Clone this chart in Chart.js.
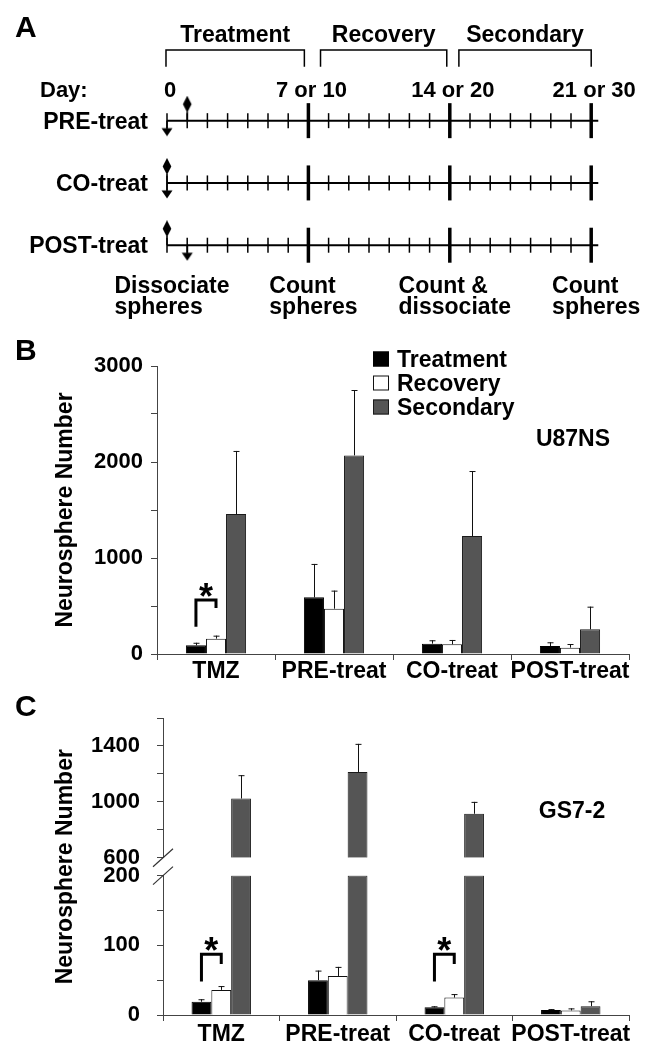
<!DOCTYPE html>
<html>
<head>
<meta charset="utf-8">
<script src="https://cdn.jsdelivr.net/npm/chart.js@4.4.1/dist/chart.umd.min.js"></script>
<style>
  html, body { margin: 0; padding: 0; background: #fff; }
  #fig { position: relative; width: 657px; height: 1050px; }
  canvas { position: absolute; left: 0; }
</style>
</head>
<body>
<div id="fig">
  <canvas id="panelA" width="657" height="335" style="top:0"></canvas>
  <canvas id="panelB" width="657" height="355" style="top:335px"></canvas>
  <canvas id="panelC" width="657" height="360" style="top:690px"></canvas>
</div>
<script>
// ---------- panel A : schedules ----------
const schedules = ["PRE-treat", "CO-treat", "POST-treat"];
const drugDay = [1, 0, 0];          // diamond
const dissociateDay = [0, 0, 1];    // arrow
const dayTicks = [0, 1, 2, 3, 4, 5, 6, 8, 9, 10, 11, 12, 13, 15, 16, 17, 18, 19, 20];
const phaseDays = [7, 14, 21];
const lineEnd = 21.35;
const dayLabels = ["0", "7 or 10", "14 or 20", "21 or 30"];
const dayLabelAt = [0, 7, 14, 21];
const phases = ["Treatment", "Recovery", "Secondary"];
const phaseFrom = [-0.05, 7.6, 14.45];
const phaseTo = [6.8, 13.85, 21.0];
const steps = [["Dissociate", "spheres"], ["Count", "spheres"], ["Count &", "dissociate"], ["Count", "spheres"]];

// ---------- panel B : U87NS ----------
const groups = ["TMZ", "PRE-treat", "CO-treat", "POST-treat"];
const seriesNames = ["Treatment", "Recovery", "Secondary"];
const u87Treatment = [90, 590, 108, 83];
const u87Recovery = [160, 472, 101, 66];
const u87Secondary = [1458, 2069, 1229, 257];
const u87TreatmentSd = [27, 348, 35, 39];
const u87RecoverySd = [31, 188, 45, 38];
const u87SecondarySd = [657, 681, 677, 236];
const u87Ticks = [0, 1000, 2000, 3000];

// ---------- panel C : GS7-2 ----------
const gsTreatment = [19, 50, 11, 7];
const gsRecovery = [36, 56, 25, 6.5];
const gsSecondary = [1024, 1214, 915, 12.7];
const gsTreatmentSd = [3.6, 13.7, 1.5, 1.5];
const gsRecoverySd = [5.5, 13, 5, 3];
const gsSecondarySd = [167, 201, 85, 7];
const gsLowTicks = [0, 100, 200];
const gsHighTicks = [600, 1000, 1400];
const gsBreak = [200, 600];

const FONT = "'Liberation Sans', Arial, Helvetica, sans-serif";
Chart.defaults.font.family = FONT;
Chart.defaults.font.weight = "bold";
Chart.defaults.color = "#000";

const barColors = [
    {backgroundColor: "#000000", borderColor: "#000000"},
    {backgroundColor: "#ffffff", borderColor: "#111111"},
    {backgroundColor: "#555555", borderColor: "#1a1a1a"}
];
const axisColor = "#444";

// ---------- markers for A ----------
function diamondMarker() {
    const c = document.createElement("canvas");
    c.width = 12;
    c.height = 50;
    const g = c.getContext("2d");
    g.fillStyle = "#000";
    g.beginPath();
    g.moveTo(6, 0);
    g.lineTo(10.3, 8.5);
    g.lineTo(6, 17);
    g.lineTo(1.7, 8.5);
    g.closePath();
    g.fill();
    g.fillRect(5.25, 16, 1.5, 9);
    return c;
}

function arrowMarker() {
    const c = document.createElement("canvas");
    c.width = 14;
    c.height = 32;
    const g = c.getContext("2d");
    g.fillStyle = "#000";
    g.fillRect(6.25, 16, 1.5, 8);
    g.beginPath();
    g.moveTo(1.5, 23.5);
    g.lineTo(12.5, 23.5);
    g.lineTo(7, 31.5);
    g.closePath();
    g.fill();
    return c;
}

const scheduleText = {
    id: "scheduleText",
    afterDraw(chart) {
        const {ctx, scales: {x, y}} = chart;
        ctx.save();
        ctx.fillStyle = "#000";
        ctx.textBaseline = "alphabetic";
        ctx.font = "bold 30px " + FONT;
        ctx.textAlign = "left";
        ctx.fillText("A", 15, 37);

        ctx.font = "bold 23px " + FONT;
        ctx.textAlign = "center";
        phases.forEach((p, i) => {
            const mid = (x.getPixelForValue(phaseFrom[i]) + x.getPixelForValue(phaseTo[i])) / 2;
            ctx.fillText(p, mid, 42);
        });

        ctx.font = "bold 22px " + FONT;
        ctx.textAlign = "left";
        ctx.fillText("Day:", 40, 97);
        ctx.textAlign = "center";
        dayLabels.forEach((t, i) => ctx.fillText(t, x.getPixelForValue(dayLabelAt[i]) + 3, 97));

        ctx.font = "bold 23px " + FONT;
        ctx.textAlign = "right";
        schedules.forEach((s, r) => ctx.fillText(s, 148, y.getPixelForValue(r) + 8));

        ctx.textAlign = "left";
        steps.forEach((lines, i) => {
            const w = Math.max(...lines.map(l => ctx.measureText(l).width));
            const left = x.getPixelForValue(dayLabelAt[i]) - w / 2 + 5;
            lines.forEach((l, k) => ctx.fillText(l, left, 293 + k * 21));
        });
        ctx.restore();
    }
};

const bracketTop = -1.136;
const bracketFoot = -0.864;
const aSets = [];
schedules.forEach((name, r) => {
    aSets.push({
        data: [{x: 0, y: r}, {x: lineEnd, y: r}],
        showLine: true, borderColor: "#000", borderWidth: 2, pointRadius: 0, clip: false
    });
    aSets.push({
        data: dayTicks.map(d => ({x: d, y: r})),
        pointStyle: "line", pointRotation: 90, pointRadius: 7.5,
        pointBorderWidth: 1.5, pointBorderColor: "#000", clip: false
    });
    aSets.push({
        data: phaseDays.map(d => ({x: d, y: r})),
        pointStyle: "line", pointRotation: 90, pointRadius: 17.5,
        pointBorderWidth: 3.5, pointBorderColor: "#000", clip: false
    });
});
aSets.push({
    data: schedules.map((s, r) => ({x: drugDay[r], y: r})),
    pointStyle: diamondMarker(), pointRadius: 5, clip: false
});
aSets.push({
    data: schedules.map((s, r) => ({x: dissociateDay[r], y: r})),
    pointStyle: arrowMarker(), pointRadius: 5, clip: false
});
phases.forEach((p, i) => {
    aSets.push({
        data: [
            {x: phaseFrom[i], y: bracketFoot}, {x: phaseFrom[i], y: bracketTop},
            {x: phaseTo[i], y: bracketTop}, {x: phaseTo[i], y: bracketFoot}
        ],
        showLine: true, borderColor: "#000", borderWidth: 1.5, pointRadius: 0, clip: false
    });
});

new Chart(document.getElementById("panelA"), {
    type: "scatter",
    data: {datasets: aSets},
    options: {
        responsive: false,
        devicePixelRatio: 1,
        animation: false,
        events: [],
        layout: {padding: {left: 156.9, right: 55.7, top: 20, bottom: 27.5}},
        scales: {
            x: {type: "linear", min: -0.5, max: 21.5, display: false},
            y: {type: "linear", min: -1.6, max: 3.0, reverse: true, display: false}
        },
        plugins: {legend: {display: false}, tooltip: {enabled: false}}
    },
    plugins: [scheduleText]
});

// ---------- shared bar helpers ----------
const errorBars = {
    id: "errorBars",
    afterDatasetsDraw(chart) {
        const ctx = chart.ctx;
        ctx.save();
        ctx.strokeStyle = "#111";
        ctx.lineWidth = 1;
        chart.data.datasets.forEach((ds, i) => {
            if (!ds.errs) return;
            const meta = chart.getDatasetMeta(i);
            const scale = chart.scales[meta.yAxisID];
            meta.data.forEach((bar, j) => {
                const raw = ds.data[j];
                const e = ds.errs[j];
                if (raw == null || e == null) return;
                const v = Array.isArray(raw) ? raw[1] : raw;
                const yTop = scale.getPixelForValue(v + e);
                const x = Math.round(bar.x) + 0.5;
                ctx.beginPath();
                ctx.moveTo(x, bar.y);
                ctx.lineTo(x, yTop);
                ctx.moveTo(x - 3, yTop + 0.5);
                ctx.lineTo(x + 3, yTop + 0.5);
                ctx.stroke();
            });
        });
        ctx.restore();
    }
};

const panelNotes = {
    id: "panelNotes",
    afterDraw(chart, args, opts) {
        const ctx = chart.ctx;
        ctx.save();
        ctx.fillStyle = "#000";
        ctx.textBaseline = "alphabetic";
        ctx.textAlign = "left";
        ctx.font = "bold 30px " + FONT;
        ctx.fillText(opts.letter, 15, opts.letterY);

        ctx.font = "bold 23px " + FONT;
        ctx.textAlign = "center";
        ctx.fillText(opts.cellLine, opts.cellX, opts.cellY);

        if (opts.legend) {
            ctx.textAlign = "left";
            for (let i = 0; i < 3; i++) {
                const ds = chart.data.datasets[i];
                const cy = opts.legendY + i * 24;
                ctx.fillStyle = ds.backgroundColor;
                ctx.fillRect(opts.legendX, cy - 7.5, 16, 15);
                ctx.strokeStyle = ds.borderColor;
                ctx.lineWidth = 1;
                ctx.strokeRect(opts.legendX + 0.5, cy - 7, 15, 14);
                ctx.fillStyle = "#000";
                ctx.fillText(ds.label, opts.legendX + 24, cy + 8);
            }
        }

        (opts.sig || []).forEach(s => {
            const scale = chart.scales[s.axis];
            const x1 = chart.getDatasetMeta(s.from).data[s.group].x;
            const x2 = chart.getDatasetMeta(s.to).data[s.group].x;
            const yt = scale.getPixelForValue(s.top);
            ctx.strokeStyle = "#000";
            ctx.lineWidth = 3;
            ctx.lineJoin = "miter";
            ctx.beginPath();
            ctx.moveTo(x1, scale.getPixelForValue(s.feet[0]));
            ctx.lineTo(x1, yt);
            ctx.lineTo(x2, yt);
            ctx.lineTo(x2, scale.getPixelForValue(s.feet[1]));
            ctx.stroke();
            ctx.font = "bold 36px " + FONT;
            ctx.textAlign = "center";
            ctx.fillStyle = "#000";
            ctx.fillText("*", (x1 + x2) / 2, yt + 9);
        });

        if (opts.breakAt) {
            const left = chart.chartArea.left;
            ctx.strokeStyle = "#333";
            ctx.lineWidth = 1.2;
            opts.breakAt.forEach(b => {
                const y = chart.scales[b.axis].getPixelForValue(b.value);
                ctx.beginPath();
                ctx.moveTo(left - 10, y + 9);
                ctx.lineTo(left + 10, y - 9);
                ctx.stroke();
            });
        }
        ctx.restore();
    }
};

function xAxis(height, pad) {
    return {
        type: "category",
        grid: {offset: true, drawOnChartArea: false, tickLength: 6, color: axisColor},
        border: {color: axisColor},
        ticks: {
            font: {size: 23, weight: "bold", lineHeight: 1},
            padding: pad, maxRotation: 0, minRotation: 0, autoSkip: false, color: "#000"
        },
        afterFit: (s) => { s.height = height; }
    };
}

const yTitle = {
    display: true,
    text: "Neurosphere Number",
    font: {size: 23, weight: "bold", lineHeight: 1.2},
    padding: {top: 4, bottom: 4},
    color: "#000"
};

const barCommon = {borderWidth: 1, categoryPercentage: 0.51, barPercentage: 1.0};

// ---------- panel B ----------
new Chart(document.getElementById("panelB"), {
    type: "bar",
    data: {
        labels: groups,
        datasets: [
            {label: seriesNames[0], data: u87Treatment, errs: u87TreatmentSd, ...barColors[0], ...barCommon},
            {label: seriesNames[1], data: u87Recovery, errs: u87RecoverySd, ...barColors[1], ...barCommon},
            {label: seriesNames[2], data: u87Secondary, errs: u87SecondarySd, ...barColors[2], ...barCommon}
        ]
    },
    options: {
        responsive: false,
        devicePixelRatio: 1,
        animation: false,
        events: [],
        layout: {padding: {left: 48, right: 28, top: 31, bottom: 0}},
        scales: {
            x: xAxis(36, 0),
            y: {
                type: "linear", min: 0, max: 3000,
                grid: {drawOnChartArea: false, tickLength: 6, color: axisColor},
                border: {color: axisColor},
                ticks: {
                    stepSize: 500, autoSkip: false, padding: 8,
                    font: {size: 22, weight: "bold", lineHeight: 1},
                    callback: (v) => u87Ticks.includes(v) ? v : ""
                },
                title: yTitle,
                afterFit: (s) => { s.width = 109; }
            }
        },
        plugins: {
            legend: {display: false},
            tooltip: {enabled: false},
            panelNotes: {
                letter: "B", letterY: 25,
                cellLine: "U87NS", cellX: 573, cellY: 111,
                legend: true, legendX: 373, legendY: 24,
                sig: [{group: 0, from: 0, to: 1, feet: [284, 479], top: 562, axis: "y"}]
            }
        }
    },
    plugins: [errorBars, panelNotes]
});

// ---------- panel C (broken axis) ----------
new Chart(document.getElementById("panelC"), {
    type: "bar",
    data: {
        labels: groups,
        datasets: [
            {label: seriesNames[0], data: gsTreatment, errs: gsTreatmentSd, yAxisID: "yLow", stack: "t", ...barColors[0], ...barCommon},
            {label: seriesNames[1], data: gsRecovery, errs: gsRecoverySd, yAxisID: "yLow", stack: "r", ...barColors[1], ...barCommon},
            {
                label: seriesNames[2], yAxisID: "yLow", stack: "s", ...barColors[2], ...barCommon,
                data: gsSecondary.map(v => Math.min(v, gsBreak[0])),
                errs: gsSecondarySd.map((e, j) => gsSecondary[j] <= gsBreak[0] ? e : null)
            },
            {
                label: seriesNames[2], yAxisID: "yHigh", stack: "s", ...barColors[2], ...barCommon,
                data: gsSecondary.map(v => v > gsBreak[1] ? [gsBreak[1], v] : null),
                errs: gsSecondarySd.map((e, j) => gsSecondary[j] > gsBreak[1] ? e : null)
            }
        ]
    },
    options: {
        responsive: false,
        devicePixelRatio: 1,
        animation: false,
        events: [],
        layout: {padding: {left: 48, right: 28, top: 24, bottom: 0}},
        scales: {
            x: xAxis(35, 2),
            yLow: {
                type: "linear", position: "left", stack: "gs", stackWeight: 141.3,
                min: 0, max: gsBreak[0], stacked: false,
                grid: {drawOnChartArea: false, tickLength: 6, color: axisColor},
                border: {color: axisColor},
                ticks: {
                    stepSize: 50, autoSkip: false, padding: 17,
                    font: {size: 22, weight: "bold", lineHeight: 1},
                    callback: (v) => gsLowTicks.includes(v) ? v : ""
                },
                afterFit: (s) => { s.width = 115; }
            },
            yGap: {
                type: "linear", position: "left", stack: "gs", stackWeight: 18,
                min: gsBreak[0], max: gsBreak[1],
                grid: {display: false},
                border: {display: false},
                ticks: {display: false},
                title: yTitle,
                afterFit: (s) => { s.width = 115; }
            },
            yHigh: {
                type: "linear", position: "left", stack: "gs", stackWeight: 141.7,
                min: gsBreak[1], max: 1600, stacked: false,
                grid: {drawOnChartArea: false, tickLength: 6, color: axisColor},
                border: {color: axisColor},
                ticks: {
                    stepSize: 200, autoSkip: false, padding: 17,
                    font: {size: 22, weight: "bold", lineHeight: 1},
                    callback: (v) => gsHighTicks.includes(v) ? v : ""
                },
                afterFit: (s) => { s.width = 115; }
            }
        },
        plugins: {
            legend: {display: false},
            tooltip: {enabled: false},
            panelNotes: {
                letter: "C", letterY: 26,
                cellLine: "GS7-2", cellX: 572, cellY: 128,
                legend: false,
                sig: [
                    {group: 0, from: 0, to: 1, feet: [48, 73], top: 87, axis: "yLow"},
                    {group: 2, from: 0, to: 1, feet: [48, 73], top: 87, axis: "yLow"}
                ],
                breakAt: [{axis: "yHigh", value: gsBreak[1]}, {axis: "yLow", value: gsBreak[0]}]
            }
        }
    },
    plugins: [errorBars, panelNotes]
});
</script>
</body>
</html>
